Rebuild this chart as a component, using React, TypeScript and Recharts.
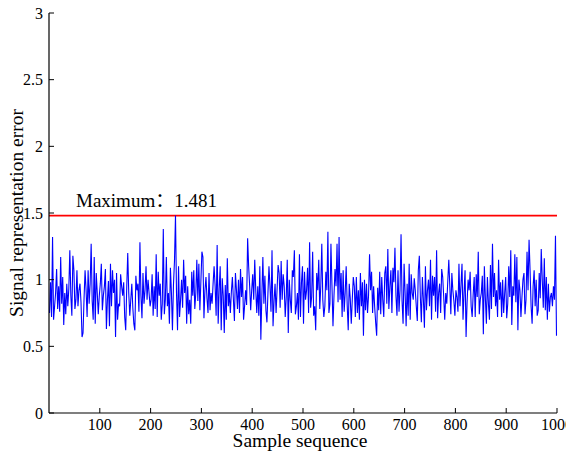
import { LineChart, Line, XAxis, YAxis, ReferenceLine } from 'recharts';

const errSeg1 = [
  0.75, 0.98, 0.72, 1.32, 0.7, 0.8, 0.9, 1.08, 0.78, 0.95,
  0.76, 1.17, 0.82, 1.02, 0.66, 0.9, 0.74, 0.97, 0.8, 0.93,
  1.22, 0.88, 0.73, 1.18, 1.07, 0.78, 0.85, 1.07, 0.8, 0.92,
  0.97, 0.83, 0.57, 0.6, 0.86, 1.07, 0.92, 0.72, 1.07, 0.82,
  0.97, 1.27, 0.84, 0.7, 1.17, 0.67, 1.05, 0.9, 0.74, 0.88,
  0.97, 1.12, 0.77, 0.88, 0.95, 1.08, 0.63, 0.85, 0.99, 0.65,
  1.12, 0.8, 1.07, 0.9, 1.0, 0.57, 1.05, 0.7, 0.82, 0.8,
  1.04, 0.95, 0.88, 0.98, 0.72, 0.62, 0.94, 1.2, 0.9, 0.73,
  0.85, 0.97, 0.79, 0.67, 0.62, 1.03, 0.92, 0.97, 0.76, 1.28,
  0.88, 0.71, 1.05, 0.82, 0.92, 1.1, 0.85, 1.0, 0.9, 0.8,
];
const errSeg2 = [
  0.85, 1.04, 0.73, 0.95, 0.78, 1.19, 0.72, 1.06, 0.88, 0.97,
  0.7, 0.82, 1.38, 0.74, 0.85, 1.17, 0.8, 0.9, 0.67, 1.09,
  0.9, 0.62, 0.96, 1.14, 1.481, 0.9, 0.62, 1.1, 0.72, 0.85,
  1.0, 0.79, 1.15, 0.9, 1.03, 0.67, 0.95, 0.74, 0.85, 0.67,
  1.06, 0.88, 1.07, 0.78, 0.9, 1.15, 0.84, 1.12, 0.77, 0.99,
  1.21, 1.17, 0.71, 0.92, 1.02, 0.86, 0.75, 1.05, 0.77, 0.9,
  0.82, 0.97, 1.1, 0.95, 0.73, 1.26, 0.67, 0.93, 1.1, 0.62,
  1.01, 0.88, 0.6, 0.96, 0.7, 1.16, 0.8, 0.9, 0.75, 0.91,
  1.02, 0.85, 0.69, 1.05, 0.92, 0.78, 1.0, 0.75, 1.08, 0.87,
  1.02, 0.7, 0.8, 0.92, 0.81, 1.31, 1.1, 0.95, 0.77, 0.92,
  1.04, 0.85,
];
const errSeg3 = [
  1.15, 0.92, 0.75, 0.95, 0.73, 1.1, 0.55, 0.88, 1.17, 0.82,
  1.03, 0.77, 0.68, 0.9, 1.1, 0.95, 0.76, 1.22, 0.65, 0.84,
  0.97, 0.75, 0.93, 1.11, 1.05, 0.79, 1.14, 0.85, 1.04, 0.95,
  0.72, 0.87, 1.15, 0.6, 1.0, 0.85, 0.75, 1.07, 1.02, 1.22,
  0.74, 0.8, 0.9, 0.7, 1.19, 0.72, 0.98, 1.1, 0.67, 1.06,
  0.85, 0.92, 1.09, 0.75, 1.28, 0.79, 0.87, 1.21, 0.73, 0.8,
  0.62, 1.05, 0.92, 1.15, 0.78, 0.95, 1.27, 0.85, 0.72, 0.8,
  1.06, 0.92, 1.36, 0.75, 0.82, 1.27, 0.96, 0.65, 0.88, 1.08,
  0.95, 1.27, 0.83, 1.32, 0.85, 1.05, 0.72, 1.07, 0.76, 0.9,
  1.1, 0.81, 0.62, 0.97, 0.86, 0.67, 0.85, 1.02, 0.95,
];
const errSeg4 = [
  0.72, 1.02, 0.75, 0.92, 0.7, 1.05, 0.8, 0.98, 0.58, 1.0,
  0.77, 0.97, 0.75, 0.88, 1.19, 0.92, 1.06, 0.75, 0.95, 0.8,
  0.68, 0.58, 0.94, 0.77, 1.06, 0.74, 1.02, 0.85, 0.72, 1.05,
  1.1, 0.82, 1.23, 0.78, 0.95, 1.07, 0.75, 1.09, 0.98, 1.24,
  0.88, 0.73, 1.07, 0.76, 0.92, 1.34, 0.84, 0.67, 1.12, 0.9,
  0.65, 0.97, 0.73, 1.12, 0.7, 1.04, 0.9, 0.85, 1.01, 0.92,
  0.8, 0.69, 1.07, 1.18, 0.87, 0.68, 1.02, 0.85, 0.64, 1.1,
  0.77, 0.92, 1.0, 0.8, 1.15, 0.7, 1.03, 0.88, 1.02, 0.76,
  1.22, 0.71, 0.9, 0.97, 0.75, 1.08, 1.02, 0.87, 0.7, 0.9,
  0.82, 0.99, 1.15, 0.95, 0.74, 1.05, 0.92, 0.84, 0.73, 0.92,
];
const errSeg5 = [
  0.87, 0.76, 1.12, 0.8, 0.96, 1.12, 0.7, 0.9, 1.07, 0.57,
  0.83, 1.0, 0.92, 1.06, 0.8, 0.72, 0.89, 1.02, 0.72, 1.04,
  0.87, 1.21, 0.74, 0.85, 0.9, 1.03, 0.59, 1.1, 0.86, 0.67,
  1.02, 0.82, 0.7, 1.11, 0.78, 1.27, 0.87, 1.05, 0.8, 0.92,
  0.72, 1.15, 0.85, 0.98, 0.72, 1.0, 0.75, 0.9, 1.02, 0.71,
  0.82, 1.1, 0.87, 1.22, 0.66, 0.95, 0.88, 1.19, 0.83, 1.17,
  0.62, 1.0, 0.92, 0.72, 0.87, 1.0, 1.05, 0.74, 0.85, 1.21,
  0.92, 1.3, 1.07, 0.8, 0.67, 0.95, 1.07, 0.8, 1.0, 0.73,
  0.77, 1.05, 0.86, 1.23, 1.0, 0.79, 1.16, 0.77, 1.02, 0.7,
  0.97, 0.76, 0.87, 0.9, 0.8, 0.95, 0.85, 1.33, 0.58,
];

const errValues = [...errSeg1, ...errSeg2, ...errSeg3, ...errSeg4, ...errSeg5];
const sampleIdx = errValues.map((_, i) => 1 + i * 2);

const MAX_ERR = 1.481;
const X_TICKS = [100, 200, 300, 400, 500, 600, 700, 800, 900, 1000];
const Y_TICKS = [0, 0.5, 1, 1.5, 2, 2.5, 3];

const data = sampleIdx.map((s, i) => ({ sample: s, err: errValues[i] }));

const FONT = '"Liberation Serif", "Times New Roman", serif';
const NOTE_FONT = '"Liberation Serif", "Noto Sans CJK SC", serif';
const tickStyle = { fontSize: 16, fill: '#000', fontFamily: FONT };

export default function App() {
  return (
    <div style={{ position: 'absolute', left: 0, top: 0, width: 566, height: 452, background: '#fff' }}>
      <LineChart width={566} height={452} data={data} margin={{ top: 13, right: 9, bottom: 0, left: 0 }}>
        <XAxis
          dataKey="sample"
          type="number"
          domain={[0, 1000]}
          ticks={X_TICKS}
          interval={0}
          height={39}
          tick={tickStyle}
          tickSize={-5}
          tickMargin={11}
          tickLine={{ stroke: '#000' }}
          axisLine={{ stroke: '#000', strokeWidth: 1.2 }}
          label={({ viewBox }: any) => (
            <text
              x={viewBox.x + viewBox.width / 2 - 3}
              y={viewBox.y + 34}
              textAnchor="middle"
              fontSize={19.5}
              fontFamily={FONT}
              fill="#000"
            >
              Sample sequence
            </text>
          )}
        />
        <XAxis
          xAxisId="top"
          orientation="top"
          dataKey="sample"
          type="number"
          domain={[0, 1000]}
          ticks={X_TICKS}
          interval={0}
          height={0}
          tick={false}
          tickSize={-5}
          tickLine={{ stroke: '#000' }}
          axisLine={{ stroke: '#000', strokeWidth: 1.2 }}
        />
        <YAxis
          type="number"
          domain={[0, 3]}
          ticks={Y_TICKS}
          interval={0}
          width={49}
          tick={tickStyle}
          tickSize={-5}
          tickMargin={11}
          tickLine={{ stroke: '#000' }}
          axisLine={{ stroke: '#000', strokeWidth: 1.2 }}
          label={({ viewBox }: any) => {
            const cy = viewBox.y + viewBox.height / 2;
            return (
              <text
                x={23}
                y={cy}
                transform={`rotate(-90, 23, ${cy})`}
                textAnchor="middle"
                fontSize={19.5}
                fontFamily={FONT}
                fill="#000"
              >
                Signal representation error
              </text>
            );
          }}
        />
        <YAxis
          yAxisId="right"
          orientation="right"
          type="number"
          domain={[0, 3]}
          ticks={Y_TICKS}
          interval={0}
          width={0}
          tick={false}
          tickSize={-5}
          tickLine={{ stroke: '#000' }}
          axisLine={{ stroke: '#000', strokeWidth: 1.2 }}
        />
        <ReferenceLine
          y={MAX_ERR}
          stroke="#ff0000"
          strokeWidth={1.7}
          label={({ viewBox }: any) => (
            <text x={viewBox.x + 27} y={viewBox.y - 9} fontSize={19} fontFamily={NOTE_FONT} fill="#000">
              {`Maximum：${MAX_ERR}`}
            </text>
          )}
        />
        <Line
          type="linear"
          dataKey="err"
          stroke="#0000ff"
          strokeWidth={1.1}
          dot={false}
          activeDot={false}
          isAnimationActive={false}
        />
      </LineChart>
    </div>
  );
}
